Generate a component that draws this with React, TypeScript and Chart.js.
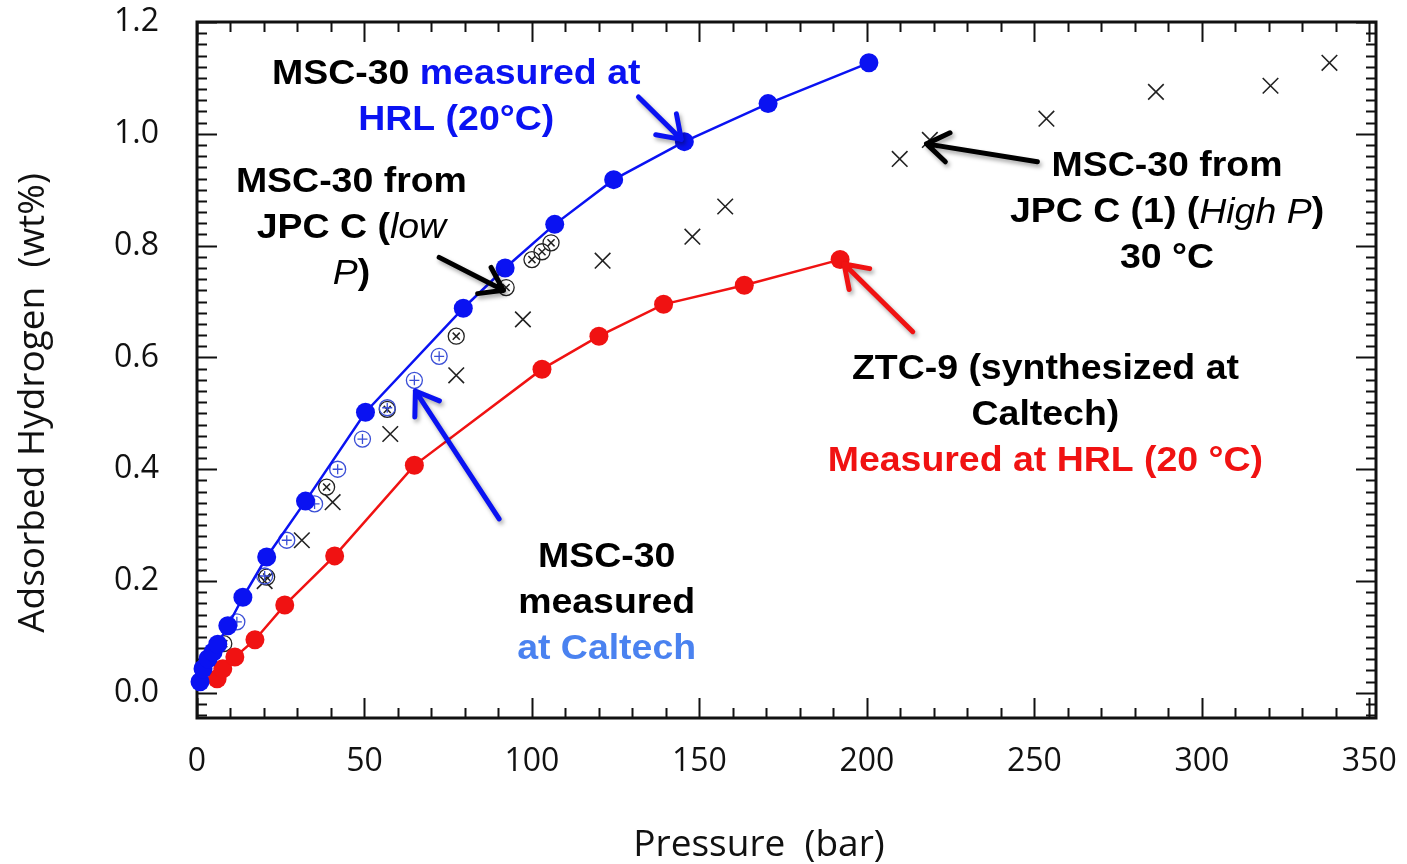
import React, { useEffect, useRef } from "react";
import { Chart, registerables } from "chart.js";

Chart.register(...registerables);

// ---------- data ----------
const hrlPressure = [0.9, 1.8, 3.3, 4.8, 6.2, 9.2, 13.7, 20.8, 32.4, 50.3, 79.5, 92, 106.8, 124.4, 145.5, 170.5, 200.6];
const hrlUptake = [0.02, 0.043, 0.061, 0.073, 0.087, 0.12, 0.171, 0.243, 0.343, 0.502, 0.688, 0.76, 0.838, 0.918, 0.986, 1.054, 1.127];

const ztcPressure = [6, 7.7, 11.3, 17.3, 26.2, 41.1, 64.9, 103, 120, 139.3, 163.4, 192];
const ztcUptake = [0.025, 0.043, 0.064, 0.095, 0.157, 0.245, 0.407, 0.579, 0.638, 0.695, 0.729, 0.775];

const caltechPressure = [11.9, 20.2, 26.8, 35.1, 42, 49.4, 56.8, 64.9, 72.3];
const caltechUptake = [0.127, 0.209, 0.273, 0.338, 0.4, 0.454, 0.51, 0.559, 0.602];

const jpcLowPressure = [8, 20.8, 38.7, 56.8, 77.4, 92.3, 100, 103, 105.7];
const jpcLowUptake = [0.088, 0.207, 0.368, 0.507, 0.638, 0.725, 0.775, 0.789, 0.805];

const jpcHighPressure = [20.2, 31.3, 40.5, 57.7, 77.4, 97.3, 121.1, 147.9, 157.7, 209.8, 218.8, 253.6, 286.3, 320.5, 338.1];
const jpcHighUptake = [0.2, 0.273, 0.341, 0.463, 0.568, 0.668, 0.773, 0.816, 0.87, 0.955, 0.989, 1.027, 1.075, 1.086, 1.127];

const xTickValues = [0, 50, 100, 150, 200, 250, 300, 350];
const yTickValues = [0, 0.2, 0.4, 0.6, 0.8, 1.0, 1.2];

const xTitle = "Pressure  (bar)";
const yTitle = "Adsorbed Hydrogen  (wt%)";

// ---------- styles ----------
const BLUE = "#0a12f2";
const RED = "#f01212";
const CALTECH = "#3b4fd6";
const CALTECH_TEXT = "#4a82f0";
const BLACK = "#000000";

type Seg = { t: string; c: string; i?: boolean };
const notes: { x: number; y: number; lines: Seg[][] }[] = [
  { x: 77.4, y: 1.107, lines: [[{ t: "MSC-30 ", c: BLACK }, { t: "measured at", c: BLUE }], [{ t: "HRL (20°C)", c: BLUE }]] },
  {
    x: 46.1, y: 0.914, lines: [
      [{ t: "MSC-30 from", c: BLACK }],
      [{ t: "JPC C (", c: BLACK }, { t: "low", c: BLACK, i: true }],
      [{ t: "P", c: BLACK, i: true }, { t: ")", c: BLACK }],
    ],
  },
  {
    x: 289.6, y: 0.941, lines: [
      [{ t: "MSC-30 from", c: BLACK }],
      [{ t: "JPC C (1) (", c: BLACK }, { t: "High P", c: BLACK, i: true }, { t: ")", c: BLACK }],
      [{ t: "30 °C", c: BLACK }],
    ],
  },
  {
    x: 253.3, y: 0.579, lines: [
      [{ t: "ZTC-9 (synthesized at", c: BLACK }],
      [{ t: "Caltech)", c: BLACK }],
      [{ t: "Measured at HRL (20 °C)", c: RED }],
    ],
  },
  {
    x: 122.3, y: 0.243, lines: [
      [{ t: "MSC-30", c: BLACK }],
      [{ t: "measured", c: BLACK }],
      [{ t: "at Caltech", c: CALTECH_TEXT }],
    ],
  },
];

const arrows = [
  { x1: 131.8, y1: 1.066, x2: 144.6, y2: 0.99, c: BLUE },
  { x1: 72.3, y1: 0.779, x2: 91.5, y2: 0.72, c: BLACK },
  { x1: 250.9, y1: 0.95, x2: 217.8, y2: 0.982, c: BLACK },
  { x1: 213.7, y1: 0.646, x2: 193.2, y2: 0.767, c: RED },
  { x1: 90.2, y1: 0.311, x2: 65.2, y2: 0.54, c: BLUE },
];

const pts = (xs: number[], ys: number[]) => xs.map((x, i) => ({ x, y: ys[i] }));

const framePlugin = {
  id: "frameTicks",
  beforeDatasetsDraw(chart: any) {
    const { ctx, chartArea: a, scales } = chart;
    const xs = scales.x, ys = scales.y;
    ctx.save();
    ctx.strokeStyle = "#111";
    ctx.lineWidth = 2;
    ctx.beginPath();
    for (let v = 0; v <= 350; v += 10) {
      const px = Math.round(xs.getPixelForValue(v)) + 0.5;
      const len = v % 50 === 0 ? 20 : 10;
      ctx.moveTo(px, a.bottom); ctx.lineTo(px, a.bottom - len);
      ctx.moveTo(px, a.top); ctx.lineTo(px, a.top + len);
    }
    for (let k = -2; k <= 60; k++) {
      const v = k * 0.02;
      if (v < ys.min || v > ys.max) continue;
      const py = Math.round(ys.getPixelForValue(v)) + 0.5;
      const len = k % 10 === 0 ? 20 : 10;
      ctx.moveTo(a.left, py); ctx.lineTo(a.left + len, py);
      ctx.moveTo(a.right, py); ctx.lineTo(a.right - len, py);
    }
    ctx.stroke();
    ctx.lineWidth = 3;
    ctx.strokeRect(a.left, a.top, a.right - a.left, a.bottom - a.top);
    ctx.restore();
  },
  afterDatasetsDraw(chart: any) {
    const { ctx, scales } = chart;
    const xs = scales.x, ys = scales.y;
    ctx.save();
    // arrows
    for (const ar of arrows) {
      const x1 = xs.getPixelForValue(ar.x1), y1 = ys.getPixelForValue(ar.y1);
      const x2 = xs.getPixelForValue(ar.x2), y2 = ys.getPixelForValue(ar.y2);
      const ang = Math.atan2(y2 - y1, x2 - x1);
      const hl = 26, ha = 0.6;
      ctx.save();
      ctx.shadowColor = "rgba(0,0,0,0.35)";
      ctx.shadowBlur = 4;
      ctx.shadowOffsetX = 2;
      ctx.shadowOffsetY = 3;
      ctx.strokeStyle = ar.c;
      ctx.lineWidth = 5;
      ctx.lineCap = "round";
      ctx.lineJoin = "round";
      ctx.beginPath();
      ctx.moveTo(x1, y1);
      ctx.lineTo(x2, y2);
      ctx.moveTo(x2 - hl * Math.cos(ang - ha), y2 - hl * Math.sin(ang - ha));
      ctx.lineTo(x2, y2);
      ctx.lineTo(x2 - hl * Math.cos(ang + ha), y2 - hl * Math.sin(ang + ha));
      ctx.stroke();
      ctx.restore();
    }
    // notes
    const fs = 35, lh = 46, sx = 1.07;
    ctx.textBaseline = "middle";
    ctx.textAlign = "left";
    const fontFor = (s: Seg) => `${s.i ? "italic " : "bold "}${fs}px "Liberation Sans", Arial, sans-serif`;
    for (const n of notes) {
      const cx = xs.getPixelForValue(n.x);
      const cy0 = ys.getPixelForValue(n.y);
      n.lines.forEach((line, li) => {
        const widths = line.map((s) => {
          ctx.font = fontFor(s);
          return ctx.measureText(s.t).width;
        });
        const tot = widths.reduce((p, q) => p + q, 0);
        const y = cy0 + li * lh;
        ctx.save();
        ctx.translate(cx, y);
        ctx.scale(sx, 1);
        let x = -tot / 2;
        line.forEach((s, si) => {
          ctx.font = fontFor(s);
          ctx.fillStyle = s.c;
          ctx.fillText(s.t, x, 0);
          x += widths[si];
        });
        ctx.restore();
      });
    }
    // axis titles
    ctx.fillStyle = "#111";
    ctx.font = `37px "Open Sans", sans-serif`;
    ctx.textAlign = "center";
    ctx.textBaseline = "middle";
    ctx.fillText(xTitle, 759, 845);
    ctx.save();
    ctx.translate(33, 403);
    ctx.rotate(-Math.PI / 2);
    ctx.fillText(yTitle, 0, 0);
    ctx.restore();
    ctx.restore();
  },
};

export default function App() {
  const ref = useRef<HTMLCanvasElement>(null);
  useEffect(() => {
    document.body.style.margin = "0";
    const tickFont = { family: '"Open Sans", sans-serif', size: 32 };
    const chart = new Chart(ref.current as HTMLCanvasElement, {
      type: "scatter",
      data: {
        datasets: [
          {
            label: "MSC-30 measured at HRL (20°C)",
            data: pts(hrlPressure, hrlUptake),
            showLine: true,
            borderColor: BLUE,
            borderWidth: 2.5,
            backgroundColor: BLUE,
            pointRadius: 9.5,
            pointBorderWidth: 0,
            pointBackgroundColor: BLUE,
            clip: false,
          },
          {
            label: "ZTC-9 measured at HRL (20 °C)",
            data: pts(ztcPressure, ztcUptake),
            showLine: true,
            borderColor: RED,
            borderWidth: 2.5,
            backgroundColor: RED,
            pointRadius: 9.5,
            pointBorderWidth: 0,
            pointBackgroundColor: RED,
            clip: false,
          },
          {
            label: "MSC-30 measured at Caltech",
            data: pts(caltechPressure, caltechUptake),
            pointStyle: "circle",
            pointRadius: 8,
            pointBorderWidth: 1.3,
            pointBorderColor: CALTECH,
            pointBackgroundColor: "rgba(255,255,255,0)",
            clip: false,
          },
          {
            label: "MSC-30 measured at Caltech (+)",
            data: pts(caltechPressure, caltechUptake),
            pointStyle: "cross",
            pointRadius: 5,
            pointBorderWidth: 1.3,
            pointBorderColor: CALTECH,
            clip: false,
          },
          {
            label: "MSC-30 from JPC C (low P)",
            data: pts(jpcLowPressure, jpcLowUptake),
            pointStyle: "circle",
            pointRadius: 8,
            pointBorderWidth: 1.3,
            pointBorderColor: "#222",
            pointBackgroundColor: "rgba(255,255,255,0)",
            clip: false,
          },
          {
            label: "MSC-30 from JPC C (low P) (x)",
            data: pts(jpcLowPressure, jpcLowUptake),
            pointStyle: "crossRot",
            pointRadius: 5,
            pointBorderWidth: 1.5,
            pointBorderColor: "#222",
            clip: false,
          },
          {
            label: "MSC-30 from JPC C (1) (High P) 30 °C",
            data: pts(jpcHighPressure, jpcHighUptake),
            pointStyle: "crossRot",
            pointRadius: 11,
            pointBorderWidth: 1.6,
            pointBorderColor: "#222",
            clip: false,
          },
        ],
      },
      options: {
        animation: false,
        responsive: true,
        maintainAspectRatio: false,
        layout: { padding: { top: 22, right: 31, left: 0, bottom: 0 } },
        plugins: { legend: { display: false }, tooltip: { enabled: false } },
        scales: {
          x: {
            type: "linear",
            min: 0,
            max: 352,
            grid: { display: false },
            border: { display: false },
            afterBuildTicks: (s: any) => { s.ticks = xTickValues.map((v) => ({ value: v })); },
            afterFit: (s: any) => { s.height = 146; s.paddingLeft = 0; s.paddingRight = 0; },
            ticks: { font: tickFont, color: "#111", padding: 17, maxRotation: 0, autoSkip: false },
          },
          y: {
            type: "linear",
            min: -0.045,
            max: 1.2,
            grid: { display: false },
            border: { display: false },
            afterBuildTicks: (s: any) => { s.ticks = yTickValues.map((v) => ({ value: v })); },
            afterFit: (s: any) => { s.width = 197; s.paddingTop = 0; s.paddingBottom = 0; },
            ticks: {
              font: tickFont,
              color: "#111",
              padding: 30,
              autoSkip: false,
              callback: (v: any) => Number(v).toFixed(1),
            },
          },
        },
      },
      plugins: [framePlugin],
    });
    return () => chart.destroy();
  }, []);
  return (
    <div style={{ position: "relative", width: 1407, height: 864 }}>
      <canvas ref={ref} />
    </div>
  );
}
